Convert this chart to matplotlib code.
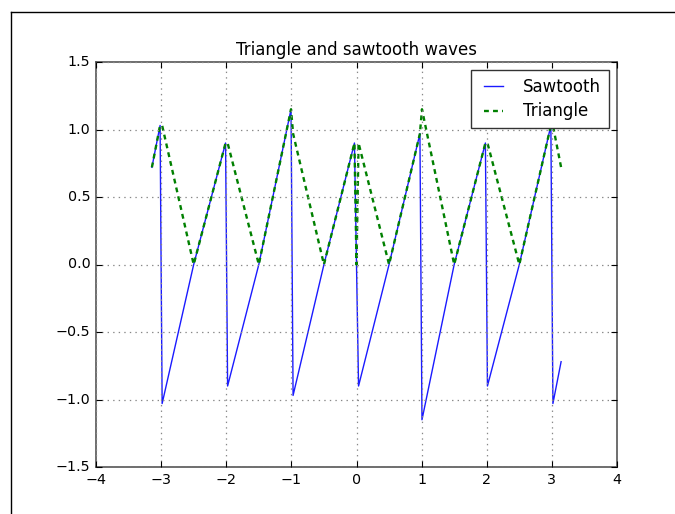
import numpy as np
import matplotlib
matplotlib.use("Agg")
import matplotlib.pyplot as plt
from matplotlib.lines import Line2D

# Sawtooth vertices (sample positions near each jump)
t = [-3.1416, -3.0159, -2.9845, -2.5, -2.0106, -1.9792, -1.5, -1.0053, -0.9739,
     -0.5, -0.0314, 0.0, 0.0314, 0.5, 0.9739, 1.0053, 1.5, 1.9792, 2.0106, 2.5,
     2.9845, 3.0159, 3.1416]
sawtooth = [0.72, 1.03, -1.03, 0.0, 0.90, -0.90, 0.0, 1.15, -0.97,
            0.0, 0.90, 0.0, -0.90, 0.0, 0.97, -1.15, 0.0, 0.90, -0.90, 0.0,
            1.03, -1.03, -0.72]
triangle = list(np.abs(np.array(sawtooth)))

title = "Triangle and sawtooth waves"
xticks = [-4, -3, -2, -1, 0, 1, 2, 3, 4]
yticks = [-1.5, -1.0, -0.5, 0.0, 0.5, 1.0, 1.5]

plt.style.use("classic")
plt.rcParams["font.family"] = ["DejaVu Sans"]

fig = plt.figure(figsize=(6.75, 5.14), dpi=100, facecolor="white")
ax = fig.add_axes([96 / 675, 1 - 467 / 514, (617 - 96) / 675, (467 - 62) / 514])

ax.plot(t, sawtooth, color="#1a1aff", lw=1.0, label="Sawtooth")
ax.plot(t, triangle, color="g", ls=(0, (3.5, 3.0)), lw=1.7, label="Triangle")

ax.set_xlim(-4, 4)
ax.set_ylim(-1.5, 1.5)
ax.set_xticks(xticks)
ax.set_yticks(yticks)
ax.set_xticklabels([("\u2212" if v < 0 else "") + str(abs(v)) for v in xticks])
ax.set_yticklabels([("\u2212" if v < 0 else "") + f"{abs(v):.1f}" for v in yticks])
ax.tick_params(labelsize=10.3, direction="in", length=4, width=0.8)
for s in ax.spines.values():
    s.set_color("#555555")
    s.set_linewidth(1.2)
ax.grid(True, color="#888888", linestyle=":", linewidth=0.9)
ax.set_title(title, fontsize=12)

leg = ax.legend(loc="upper right", fontsize=12, handlelength=1.75, handletextpad=0.9,
                fancybox=False, borderpad=0.45, labelspacing=0.4, borderaxespad=0.5)
leg.get_frame().set_edgecolor("#333333")
leg.get_frame().set_linewidth(1.0)

# Screenshot frame lines (left and top)
fig.add_artist(Line2D([10.5 / 675, 10.5 / 675], [0, 1 - 12 / 514], color="black", lw=1.0,
                      transform=fig.transFigure))
fig.add_artist(Line2D([10.5 / 675, 1], [1 - 12 / 514, 1 - 12 / 514], color="black", lw=1.0,
                      transform=fig.transFigure))

fig.savefig("out.png", dpi=100, facecolor="white")
